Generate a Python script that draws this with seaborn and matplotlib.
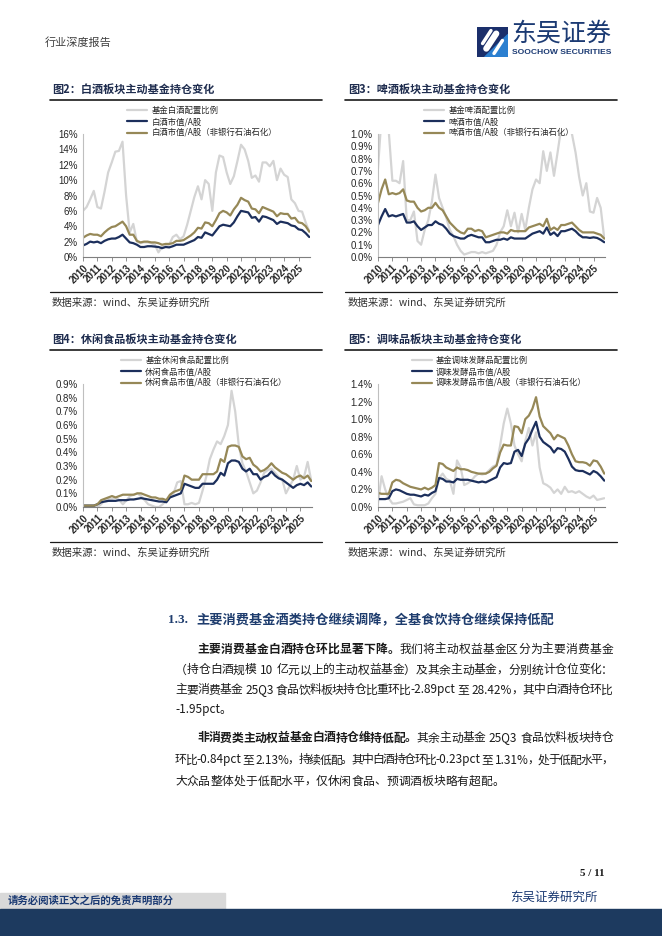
import re
import numpy as np
import pandas as pd
import seaborn as sns
import matplotlib.pyplot as plt
from matplotlib.lines import Line2D
from matplotlib.patches import Rectangle, Polygon

W, H = 662, 936
CJK = ['Noto Sans CJK SC', 'DejaVu Sans']
LAT = ['Liberation Sans', 'DejaVu Sans']
GRAY, NAVY, TAN = '#d4d4d4', '#1c2f5c', '#968857'
DARK = '#1f3d6e'

# quarterly points, 2010Q1 .. 2025Q4
quarters = pd.period_range('2010Q1', '2025Q4', freq='Q')
years = list(range(2010, 2026))

# 图2 白酒 (%)
baijiu_fund = [6.0, 6.5, 7.5, 8.6, 6.5, 6.3, 8.5, 11.0, 12.3, 13.7, 13.8, 15.0,
               8.0, 3.2, 4.3, 2.0, 1.8, 1.9, 1.9, 1.8, 1.6, 0.6, 1.3, 1.4,
               1.6, 2.6, 2.9, 2.3, 2.7, 4.2, 6.0, 7.8, 9.2, 7.5, 10.0, 9.5,
               6.0, 11.0, 13.2, 13.0, 11.0, 9.5, 10.5, 12.5, 14.6, 14.0, 12.5, 10.3,
               10.6, 9.8, 12.3, 12.3, 11.8, 12.5, 10.0, 11.5, 10.7, 10.4, 7.5, 7.0,
               6.0, 5.9, 4.5, 3.3]
baijiu_mkt = [1.5, 1.7, 2.0, 1.9, 2.0, 1.8, 2.1, 2.3, 2.4, 2.4, 2.6, 2.9,
              2.4, 1.9, 1.8, 1.6, 1.3, 1.3, 1.4, 1.4, 1.35, 1.3, 1.15, 1.3,
              1.25, 1.4, 1.6, 1.6, 1.6, 1.8, 2.0, 2.2, 2.6, 2.5, 3.2, 3.0,
              2.8, 3.4, 4.0, 4.2, 4.1, 4.0, 4.5, 5.3, 6.0, 5.9, 5.8, 5.1,
              5.2, 4.6, 5.3, 5.2, 5.0, 4.8, 4.3, 4.6, 4.5, 4.4, 4.1, 4.0,
              3.6, 3.5, 3.1, 2.6]
baijiu_ex = [2.5, 2.8, 3.0, 2.9, 2.9, 2.7, 3.2, 3.6, 3.9, 4.0, 4.3, 4.6,
             4.0, 2.9, 2.9, 2.1, 1.9, 2.0, 2.0, 1.9, 1.9, 1.8, 1.6, 1.7,
             1.7, 1.8, 2.1, 2.1, 2.2, 2.5, 2.8, 3.2, 3.8, 3.7, 4.5, 4.4,
             4.0, 4.8, 5.7, 6.0, 5.8, 5.4, 6.2, 6.8, 7.7, 7.4, 7.2, 6.3,
             6.2, 5.7, 6.5, 6.3, 6.1, 5.9, 5.3, 5.7, 5.6, 5.6, 5.0, 5.1,
             4.5, 4.4, 4.0, 3.3]

# 图3 啤酒 (%)
beer_fund = [0.72, 1.15, 1.05, 1.02, 0.62, 0.62, 0.6, 0.78, 0.3, 0.3, 0.37, 0.13,
             0.1, 0.22, 0.3, 0.45, 0.67, 0.48, 0.4, 0.32, 0.22, 0.17, 0.1, 0.05,
             0.02, 0.03, 0.04, 0.04, 0.03, 0.04, 0.03, 0.04, 0.05, 0.1, 0.2, 0.25,
             0.38, 0.25, 0.36, 0.2, 0.35, 0.22, 0.4, 0.55, 0.63, 0.6, 0.86, 0.7,
             0.85, 0.66, 0.85, 1.05, 1.1, 1.1, 1.0, 0.85, 0.65, 0.5, 0.6, 0.37,
             0.36, 0.48, 0.4, 0.15]
beer_mkt = [0.26, 0.33, 0.39, 0.33, 0.34, 0.33, 0.34, 0.35, 0.28, 0.28, 0.29, 0.25,
            0.22, 0.24, 0.26, 0.26, 0.29, 0.27, 0.26, 0.23, 0.19, 0.17, 0.16, 0.15,
            0.15, 0.17, 0.18, 0.17, 0.16, 0.16, 0.12, 0.12, 0.13, 0.14, 0.14, 0.15,
            0.14, 0.16, 0.15, 0.15, 0.15, 0.15, 0.17, 0.19, 0.2, 0.21, 0.19, 0.24,
            0.18, 0.2, 0.17, 0.21, 0.21, 0.22, 0.23, 0.21, 0.18, 0.16, 0.16, 0.155,
            0.16, 0.155, 0.14, 0.12]
beer_ex = [0.44, 0.55, 0.63, 0.51, 0.52, 0.51, 0.52, 0.55, 0.46, 0.45, 0.45, 0.4,
           0.37, 0.38, 0.4, 0.4, 0.44, 0.4, 0.38, 0.33, 0.28, 0.25, 0.22, 0.2,
           0.19, 0.23, 0.23, 0.21, 0.22, 0.21, 0.16, 0.17, 0.18, 0.19, 0.2, 0.2,
           0.19, 0.22, 0.21, 0.21, 0.21, 0.21, 0.24, 0.25, 0.26, 0.27, 0.25, 0.31,
           0.22, 0.24, 0.22, 0.26, 0.26, 0.27, 0.28, 0.25, 0.22, 0.2, 0.2, 0.2,
           0.2, 0.19, 0.18, 0.15]

# 图4 休闲食品 (%)
snack_fund = [0.01, 0.0, 0.0, 0.0, 0.0, 0.02, 0.05, 0.06, 0.06, 0.07, 0.05, 0.02,
              0.05, 0.08, 0.09, 0.1, 0.08, 0.05, 0.02, 0.01, 0.0, 0.0, 0.02, 0.05,
              0.08, 0.1, 0.18, 0.19, 0.02, 0.02, 0.03, 0.02, 0.03, 0.12, 0.22, 0.35,
              0.42, 0.48, 0.46, 0.52, 0.6, 0.85, 0.7, 0.45, 0.32, 0.26, 0.18, 0.1,
              0.12, 0.18, 0.25, 0.27, 0.28, 0.25, 0.22, 0.2, 0.1, 0.15, 0.2, 0.3,
              0.2, 0.22, 0.33, 0.19]
snack_mkt = [0.01, 0.01, 0.01, 0.01, 0.02, 0.035, 0.04, 0.045, 0.045, 0.045, 0.05, 0.05,
             0.05, 0.055, 0.055, 0.06, 0.065, 0.06, 0.055, 0.05, 0.045, 0.04, 0.04, 0.035,
             0.07, 0.08, 0.09, 0.1, 0.17, 0.16, 0.15, 0.14, 0.14, 0.17, 0.17, 0.17,
             0.17, 0.2, 0.25, 0.23, 0.32, 0.34, 0.34, 0.33, 0.28, 0.26, 0.28, 0.24,
             0.24, 0.2, 0.22, 0.23, 0.26, 0.23, 0.21, 0.2, 0.18, 0.16, 0.14, 0.16,
             0.17, 0.16, 0.18, 0.15]
snack_ex = [0.01, 0.01, 0.01, 0.01, 0.02, 0.05, 0.06, 0.07, 0.08, 0.07, 0.08, 0.09,
            0.09, 0.09, 0.09, 0.1, 0.1, 0.09, 0.08, 0.07, 0.07, 0.06, 0.06, 0.05,
            0.09, 0.11, 0.12, 0.13, 0.23, 0.22, 0.2, 0.2, 0.2, 0.24, 0.24, 0.24,
            0.24, 0.26, 0.35, 0.33, 0.44, 0.45, 0.45, 0.44, 0.37, 0.35, 0.36, 0.31,
            0.29, 0.26, 0.27, 0.29, 0.32, 0.29, 0.27, 0.25, 0.24, 0.22, 0.2, 0.22,
            0.23, 0.21, 0.23, 0.19]

# 图5 调味发酵品 (%)
season_fund = [0.05, 0.35, 0.2, 0.1, 0.04, 0.04, 0.05, 0.06, 0.08, 0.1, 0.03, 0.02,
               0.02, 0.02, 0.04, 0.1, 0.15, 0.33, 0.38, 0.32, 0.3, 0.15, 0.53, 0.45,
               0.25, 0.27, 0.3, 0.35, 0.38, 0.37, 0.38, 0.42, 0.46, 0.48, 0.7, 0.95,
               1.12, 0.95, 0.7, 0.6, 0.52, 0.75, 0.9, 0.7, 0.85, 0.45, 0.27, 0.25,
               0.22, 0.16, 0.2, 0.15, 0.23, 0.17, 0.18, 0.16, 0.18, 0.15, 0.12, 0.1,
               0.13, 0.08, 0.09, 0.1]
season_mkt = [0.09, 0.09, 0.09, 0.1, 0.18, 0.2, 0.19, 0.17, 0.15, 0.14, 0.14, 0.13,
              0.12, 0.14, 0.13, 0.16, 0.18, 0.33, 0.32, 0.29, 0.29, 0.28, 0.32, 0.31,
              0.31, 0.31, 0.3, 0.29, 0.28, 0.29, 0.28, 0.3, 0.32, 0.34, 0.45, 0.5,
              0.49, 0.5, 0.63, 0.65, 0.58, 0.72, 0.78, 0.88, 0.97, 0.8, 0.74, 0.71,
              0.68, 0.62, 0.67, 0.66, 0.63, 0.55, 0.46, 0.42, 0.41, 0.41, 0.39, 0.37,
              0.41, 0.39, 0.35, 0.3]
season_ex = [0.16, 0.15, 0.15, 0.15, 0.28, 0.31, 0.3, 0.27, 0.25, 0.23, 0.22, 0.21,
             0.2, 0.22, 0.2, 0.22, 0.25, 0.5, 0.49, 0.45, 0.43, 0.41, 0.45, 0.43,
             0.43, 0.42, 0.4, 0.39, 0.38, 0.38, 0.38, 0.4, 0.44, 0.47, 0.62, 0.71,
             0.7, 0.7, 0.92, 0.91, 0.84, 1.0, 1.04, 1.12, 1.25, 1.03, 0.92, 0.88,
             0.84, 0.77, 0.82, 0.8, 0.78, 0.7, 0.6, 0.52, 0.51, 0.51, 0.5, 0.47,
             0.53, 0.52, 0.46, 0.38]

sns.set_theme(style='white')
plt.rcParams['font.family'] = CJK
plt.rcParams['axes.unicode_minus'] = False

fig = plt.figure(figsize=(W / 100, H / 100), dpi=100)
fig.patch.set_facecolor('white')


def fx(x):
    return x / W


def fy(y):
    return 1 - y / H


def hline(x0, x1, y, lw=1.0, color='#222222'):
    fig.add_artist(Line2D([fx(x0), fx(x1)], [fy(y), fy(y)], lw=lw, color=color))


def chart(box, title, tx, rule, names, series, ymax, ystep, fmt, leg_x):
    l, t, r, b = box
    ax = fig.add_axes([fx(l), fy(b), fx(r - l), (b - t) / H])
    xq = quarters.year + (quarters.quarter - 1) / 4
    df = pd.DataFrame({
        'x': np.tile(np.asarray(xq, dtype=float), 3),
        'value': np.concatenate([np.asarray(s, dtype=float) for s in series]),
        'series': np.repeat(names, len(quarters)),
    })
    sns.lineplot(data=df, x='x', y='value', hue='series', hue_order=names,
                 palette=[GRAY, NAVY, TAN], linewidth=1.6, ax=ax, sort=False)
    ax.set_xlim(2010, 2025.8)
    ax.set_ylim(0, ymax)
    yt = np.arange(0, ymax + ystep / 2, ystep)
    ax.set_yticks(yt)
    ax.set_yticklabels([fmt.format(v) for v in yt], fontsize=7, family=LAT)
    ax.set_xticks(years)
    ax.set_xticklabels([str(y) for y in years], rotation=45, ha='right',
                       rotation_mode='anchor', fontsize=7, family=LAT,
                       fontweight='bold')
    ax.set_xlabel('')
    ax.set_ylabel('')
    for s in ['top', 'right']:
        ax.spines[s].set_visible(False)
    ax.spines['left'].set_color('#bfbfbf')
    ax.spines['left'].set_linewidth(0.8)
    ax.spines['bottom'].set_color('#7f7f7f')
    ax.spines['bottom'].set_linewidth(0.8)
    ax.tick_params(axis='x', length=3, width=0.6, color='#7f7f7f', pad=1,
                   bottom=True)
    ax.tick_params(axis='y', length=0, pad=4)
    ax.set_facecolor('white')
    sns.move_legend(ax, 'lower left', bbox_to_anchor=(leg_x, 0.935),
                    frameon=False, title=None, fontsize=6, handlelength=2.4,
                    labelspacing=0.3, borderpad=0, handletextpad=0.5)
    # title, rules and source
    fig.text(fx(tx), fy(t - 45), title, fontsize=8, fontweight='bold',
             color='#1f2d4f', va='center', ha='left')
    hline(rule[0], rule[1], t - 34, lw=1.2, color='#1a1a1a')
    hline(rule[0], rule[1], b + 35, lw=0.9, color='#1a1a1a')
    fig.text(fx(tx), fy(b + 46), '数据来源：wind、东吴证券研究所', fontsize=7.5,
             color='#333333', va='center', ha='left')
    return ax


chart((83, 134, 310, 257), '图2：白酒板块主动基金持仓变化', 52, (50, 322),
      ['基金白酒配置比例', '白酒市值/A股', '白酒市值/A股（非银行石油石化）'],
      [baijiu_fund, baijiu_mkt, baijiu_ex], 16, 2, '{:.0f}%', 0.176)
chart((378, 134, 605, 257), '图3：啤酒板块主动基金持仓变化', 348, (345, 617),
      ['基金啤酒配置比例', '啤酒市值/A股', '啤酒市值/A股（非银行石油石化）'],
      [beer_fund, beer_mkt, beer_ex], 1.0, 0.1, '{:.1f}%', 0.185)
chart((83, 384, 312, 507), '图4：休闲食品板块主动基金持仓变化', 52, (50, 322),
      ['基金休闲食品配置比例', '休闲食品市值/A股', '休闲食品市值/A股（非银行石油石化）'],
      [snack_fund, snack_mkt, snack_ex], 0.9, 0.1, '{:.1f}%', 0.148)
chart((378, 384, 605, 507), '图5：调味品板块主动基金持仓变化', 348, (345, 617),
      ['基金调味发酵品配置比例', '调味发酵品市值/A股', '调味发酵品市值/A股（非银行石油石化）'],
      [season_fund, season_mkt, season_ex], 1.4, 0.2, '{:.1f}%', 0.13)

# header
fig.text(fx(45), fy(43), '行业深度报告', fontsize=8, color='#404040', va='center')
logo = fig.add_axes([fx(477), fy(57), fx(31), 30 / H])
logo.set_xlim(0, 1)
logo.set_ylim(0, 1)
logo.axis('off')
logo.add_patch(Rectangle((0, 0), 1, 1, color='#1b2f6b'))
logo.add_patch(Polygon([(1, 0), (1, 0.75), (0.25, 0)], color='#2b7fd0'))
logo.plot([0.3, 0.62], [0.28, 0.78], color='white', lw=4.5,
          solid_capstyle='round')
logo.plot([0.18, 0.45], [0.45, 0.88], color='white', lw=2.5,
          solid_capstyle='round')
logo.plot([0.55, 0.82], [0.12, 0.55], color='white', lw=2.5,
          solid_capstyle='round')
fig.text(fx(511), fy(34), '东吴证券', fontsize=18, color='#1b3a73', va='center')
fig.text(fx(512), fy(53), 'SOOCHOW SECURITIES', fontsize=6.1, fontweight='bold',
         color='#1b3a73', va='center', family=LAT)

# section heading
fig.text(fx(168), fy(620), '1.3.', fontsize=9.5, fontweight='bold', color=DARK,
         va='center', family=['Liberation Serif', 'DejaVu Serif'])
fig.text(fx(196), fy(620), '主要消费基金酒类持仓继续调降，全基食饮持仓继续保持低配',
         fontsize=9.5, fontweight='bold', color=DARK, va='center')

renderer = fig.canvas.get_renderer()


def text_line(segs, x0, y, x1=None, size=8.5):
    toks = []
    for s, bold in segs:
        for m in re.finditer(r'[A-Za-z0-9.%\-]+|\s+|.', s):
            toks.append((m.group(), bold))
    widths = []
    for tok, bold in toks:
        if tok.isspace():
            widths.append(size * 0.3 * 100 / 72)
            continue
        tmp = fig.text(0, 0, tok, fontsize=size,
                       fontweight='bold' if bold else 'normal')
        widths.append(tmp.get_window_extent(renderer).width)
        tmp.remove()
    gap = 0.0
    if x1 is not None and len(toks) > 1:
        gap = (x1 - x0 - sum(widths)) / (len(toks) - 1)
    x = x0
    for (tok, bold), w in zip(toks, widths):
        if not tok.isspace():
            fig.text(fx(x), fy(y), tok, fontsize=size, color='#1a1a1a',
                     fontweight='bold' if bold else 'normal', va='center')
        x += w + gap


text_line([('主要消费基金白酒持仓环比显著下降。', True),
           ('我们将主动权益基金区分为主要消费基金', False)], 197, 649, 613)
text_line([('（持仓白酒规模 10 亿元以上的主动权益基金）及其余主动基金，分别统计仓位变化：', False)],
          175, 670, 613)
text_line([('主要消费基金 25Q3 食品饮料板块持仓比重环比-2.89pct 至 28.42%，其中白酒持仓环比', False)],
          175, 690, 613)
text_line([('-1.95pct。', False)], 175, 710)
text_line([('非消费类主动权益基金白酒持仓维持低配。', True),
           ('其余主动基金 25Q3 食品饮料板块持仓', False)], 197, 738, 613)
text_line([('环比-0.84pct 至 2.13%，持续低配。其中白酒持仓环比-0.23pct 至 1.31%，处于低配水平，', False)],
          175, 760, 613)
text_line([('大众品整体处于低配水平，仅休闲食品、预调酒板块略有超配。', False)], 175, 781)

# footer
fig.text(fx(605), fy(873), '5 / 11', fontsize=8, fontweight='bold', ha='right',
         va='center', color='#1a1a1a', family=['Liberation Serif', 'DejaVu Serif'])
fig.text(fx(598), fy(897), '东吴证券研究所', fontsize=9, ha='right', va='center',
         color='#1b3a73')
fig.add_artist(Rectangle((0, fy(909)), fx(225), 16 / H, color='#d9d9d9',
                         transform=fig.transFigure))
fig.text(fx(8), fy(901), '请务必阅读正文之后的免责声明部分', fontsize=7.5,
         fontweight='bold', color='#1b3a73', va='center')
fig.add_artist(Rectangle((0, 0), 1, 27 / H, color='#1d3a5f',
                         transform=fig.transFigure))

fig.savefig('out.png', dpi=100)
